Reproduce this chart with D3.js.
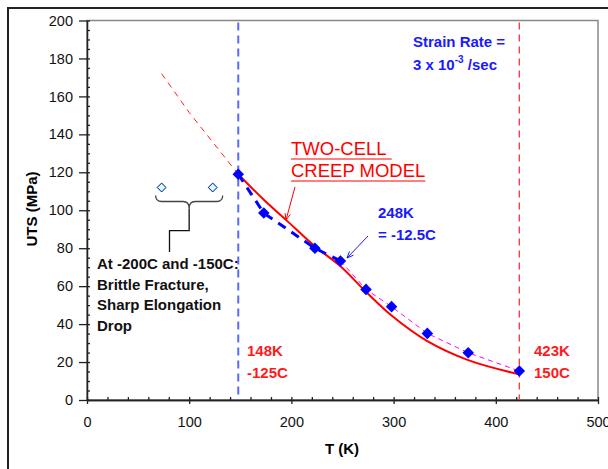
<!DOCTYPE html>
<meta charset="utf-8">
<style>
body { margin: 0; background: #fff; }
svg { font-family: "Liberation Sans", Arial, sans-serif; }
.axis path, .axis line { stroke: #222; stroke-width: 1.3; }
.axis text { font-size: 14.5px; fill: #111; }
.lbl { font-weight: bold; font-size: 15px; }
</style>
<svg width="608" height="469"></svg>
<script src="https://cdn.jsdelivr.net/npm/d3@7"></script>
<script>
// measured points (blue diamonds)
var tempK = [148, 173, 223, 248, 273, 298, 333, 373, 423];
var utsMPa = [119, 98.5, 80, 73.3, 58.3, 49.2, 35.1, 24.9, 15.3];
// two-cell creep model
var modelK = [148, 173, 195, 223, 248, 273, 298, 333, 373, 423];
var modelUts = [119, 105.5, 94.8, 81, 70.5, 57, 44.5, 31, 21, 13.5];
// model extrapolated to low temperature
var extraK = [73, 100, 148];
var extraUts = [172, 151.5, 119];
// brittle samples at -200C and -150C
var brittleK = [73, 123];
var brittleUts = [112, 112];
var xTicks = [0, 100, 200, 300, 400, 500];
var yTicks = [0, 20, 40, 60, 80, 100, 120, 140, 160, 180, 200];

var svg = d3.select("svg");
var x = d3.scaleLinear().domain([0, 500]).range([87, 598]);
var y = d3.scaleLinear().domain([0, 200]).range([400, 20.5]);

// outer frame
svg.append("rect").attr("x", 8).attr("y", 8).attr("width", 640).attr("height", 500)
  .attr("fill", "none").attr("stroke", "#222").attr("stroke-width", 2);

// plot frame
svg.append("rect").attr("x", x(0)).attr("y", y(200)).attr("width", x(500) - x(0)).attr("height", y(0) - y(200))
  .attr("fill", "none").attr("stroke", "#888").attr("stroke-width", 1.5);

// axes
svg.append("g").attr("class", "axis").attr("transform", "translate(" + x(0) + ",0)")
  .call(d3.axisLeft(y).tickValues(yTicks).tickSize(8).tickSizeOuter(0).tickPadding(6));
svg.append("g").attr("class", "axis").attr("transform", "translate(" + x(0) + ",0)")
  .call(d3.axisRight(y).tickValues(d3.range(0, 201, 5)).tickSize(3).tickSizeOuter(0).tickFormat(""));
svg.append("g").attr("class", "axis").attr("transform", "translate(0," + y(0) + ")")
  .call(d3.axisBottom(x).tickValues(xTicks).tickSize(4).tickSizeOuter(0).tickPadding(13));
svg.append("g").attr("class", "axis").attr("transform", "translate(0," + y(0) + ")")
  .call(d3.axisTop(x).tickValues(d3.range(0, 501, 20)).tickSize(3).tickSizeOuter(0).tickFormat(""));

svg.append("text").attr("class", "lbl").attr("text-anchor", "middle")
  .attr("transform", "translate(37,209) rotate(-90)").text("UTS (MPa)");
svg.append("text").attr("class", "lbl").attr("text-anchor", "middle")
  .attr("x", 342).attr("y", 454).text("T (K)");

// vertical limits
svg.append("line").attr("x1", x(148)).attr("x2", x(148)).attr("y1", y(199)).attr("y2", y(0))
  .attr("stroke", "#5a6cff").attr("stroke-width", 2).attr("stroke-dasharray", "8,5");
svg.append("line").attr("x1", x(423)).attr("x2", x(423)).attr("y1", y(199)).attr("y2", y(0))
  .attr("stroke", "#ff3333").attr("stroke-width", 1.3).attr("stroke-dasharray", "7,5");

var line = d3.line().x(function(d) { return x(d[0]); }).y(function(d) { return y(d[1]); });
var curve = d3.line().curve(d3.curveCatmullRom.alpha(0.5)).x(function(d) { return x(d[0]); }).y(function(d) { return y(d[1]); });

// extrapolation
svg.append("path").datum(d3.zip(extraK, extraUts)).attr("d", line)
  .attr("fill", "none").attr("stroke", "#ff2222").attr("stroke-width", 1).attr("stroke-dasharray", "6,5");

// model
svg.append("path").datum(d3.zip(modelK, modelUts)).attr("d", curve)
  .attr("fill", "none").attr("stroke", "#ff0000").attr("stroke-width", 2);

// data connectors
var pts = d3.zip(tempK, utsMPa);
svg.append("path").datum(pts.slice(3)).attr("d", line)
  .attr("fill", "none").attr("stroke", "#ff00ff").attr("stroke-width", 1).attr("stroke-dasharray", "5,4");
svg.append("path").datum(pts.slice(0, 4)).attr("d", line)
  .attr("fill", "none").attr("stroke", "#0000ff").attr("stroke-width", 3).attr("stroke-dasharray", "9,7");

var diamond = d3.symbol().type(d3.symbolDiamond2);
svg.selectAll(".pt").data(pts).enter().append("path").attr("class", "pt")
  .attr("transform", function(d) { return "translate(" + x(d[0]) + "," + y(d[1]) + ")"; })
  .attr("d", diamond.size(85)).attr("fill", "#0000ff");

svg.selectAll(".br").data(d3.zip(brittleK, brittleUts)).enter().append("path").attr("class", "br")
  .attr("transform", function(d) { return "translate(" + x(d[0]) + "," + y(d[1]) + ")"; })
  .attr("d", d3.symbol().type(d3.symbolDiamond2).size(50)()).attr("fill", "#ccffff").attr("stroke", "#000080").attr("stroke-width", 1);

// brace and leader
var bx0 = x(brittleK[0]) - 6, bx1 = x(brittleK[1]) + 10, bm = (bx0 + bx1) / 2, by = y(brittleUts[0]) + 8;
svg.append("path")
  .attr("d", "M" + bx0 + "," + by + " q0,6 6,6 L" + (bm - 6) + "," + (by + 6) + " q6,0 6,7 q0,-7 6,-7 L" + (bx1 - 6) + "," + (by + 6) + " q6,0 6,-6")
  .attr("fill", "none").attr("stroke", "#444").attr("stroke-width", 1.3);
svg.append("path")
  .attr("d", "M" + bm + "," + (by + 13) + " V230.7 H169.5 V252")
  .attr("fill", "none").attr("stroke", "#111").attr("stroke-width", 1.3);

// annotations
var note = svg.append("text").attr("class", "lbl").attr("fill", "#111").attr("font-size", "14.5px");
["At -200C and -150C:", "Brittle Fracture,", "Sharp Elongation", "Drop"].forEach(function(s, i) {
  note.append("tspan").attr("x", 97).attr("y", 269 + i * 20.5).text(s);
});

var sr = svg.append("text").attr("class", "lbl").attr("fill", "#1a1aff");
sr.append("tspan").attr("x", 413).attr("y", 47).text("Strain Rate =");
var sr2 = svg.append("text").attr("class", "lbl").attr("fill", "#1a1aff").attr("x", 413).attr("y", 70);
sr2.append("tspan").text("3 x 10");
sr2.append("tspan").attr("font-size", "10px").attr("dy", -7).text("-3");
sr2.append("tspan").attr("dy", 7).text(" /sec");

function twoLine(xp, y0, a, b, col) {
  var t = svg.append("text").attr("class", "lbl").attr("fill", col);
  t.append("tspan").attr("x", xp).attr("y", y0).text(a);
  t.append("tspan").attr("x", xp).attr("y", y0 + 21.5).text(b);
}
twoLine(378, 218, "248K", "= -12.5C", "#1a1aff");
twoLine(247, 356, "148K", "-125C", "#ff1a1a");
twoLine(534, 356, "423K", "150C", "#ff1a1a");

// model label with underline
[["TWO-CELL\u00a0", 155], ["CREEP MODEL", 177]].forEach(function(r) {
  var t = svg.append("text").attr("x", 291).attr("y", r[1]).attr("font-size", "18.5px").attr("fill", "#ff0000").text(r[0]);
  var w = t.node().getComputedTextLength();
  svg.append("line").attr("x1", 291).attr("x2", 291 + w).attr("y1", r[1] + 4).attr("y2", r[1] + 4)
    .attr("stroke", "#ff0000").attr("stroke-width", 1.2);
});

// arrows
function arrow(x1, y1, x2, y2, col) {
  svg.append("line").attr("x1", x1).attr("y1", y1).attr("x2", x2).attr("y2", y2).attr("stroke", col).attr("stroke-width", 1);
  var a = Math.atan2(y2 - y1, x2 - x1), L = 7;
  [0.4, -0.4].forEach(function(o) {
    svg.append("line").attr("x1", x2).attr("y1", y2)
      .attr("x2", x2 - L * Math.cos(a + o)).attr("y2", y2 - L * Math.sin(a + o))
      .attr("stroke", col).attr("stroke-width", 1);
  });
}
arrow(295, 187, 286, 220, "#ff0000");
arrow(368, 236, 347, 258, "#1a1aff");
</script>
